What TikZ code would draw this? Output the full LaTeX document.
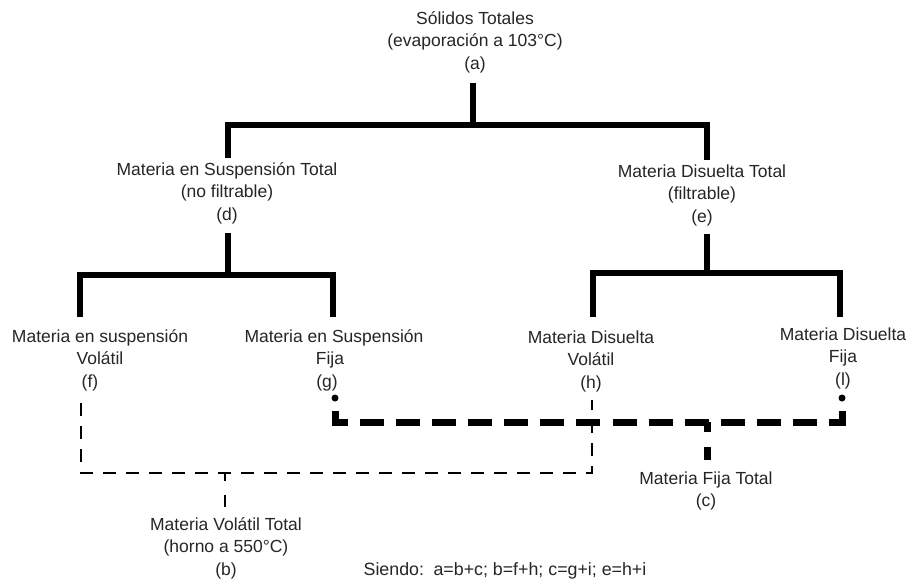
\documentclass[tikz,border=0pt]{standalone}
\usepackage{fontspec}
\setmainfont{Liberation Sans}
\begin{document}
\begin{tikzpicture}[x=1pt,y=-1pt,
  lbl/.style={align=center, inner sep=0pt, font=\fontsize{17.5}{22.5}\selectfont, text=black!85},
  solidln/.style={line width=6pt, line join=miter},
  thickdash/.style={line width=7pt, dash pattern=on 24pt off 12.07pt},
  thindash/.style={line width=1.3pt, dash pattern=on 13pt off 10pt}]
\useasboundingbox (0,0) rectangle (908,582);
\fill[white] (0,0) rectangle (908,582);
% labels
\node[lbl] (a) at (475,42) {Sólidos Totales\\(evaporación a 103°C)\\(a)};
\node[lbl] (d) at (227,193) {Materia en Suspensión Total\\(no filtrable)\\(d)};
\node[lbl] (e) at (702,195) {Materia Disuelta Total\\(filtrable)\\(e)};
\node[lbl] (f) at (100,360) {Materia en suspensión\\Volátil\\\hspace*{-20pt}(f)};
\node[lbl] (g) at (334,360) {Materia en Suspensión\\\hspace*{-8pt}Fija\\\hspace*{-14pt}(g)};
\node[lbl] (h) at (591,361) {Materia Disuelta\\Volátil\\(h)};
\node[lbl] (l) at (843,358) {Materia Disuelta\\Fija\\(l)};
\node[lbl] (c) at (706,491) {Materia Fija Total\\(c)};
\node[lbl] (b) at (226,548) {Materia Volátil Total\\(horno a 550°C)\\(b)};
\node[lbl, font=\fontsize{17.8}{22.5}\selectfont] (s) at (505,571) {Siendo:\, a=b+c; b=f+h; c=g+i; e=h+i};
% junction coordinates
\coordinate (a1) at (473,83);  \coordinate (a2) at (473,125);
\coordinate (dL) at (228,125); \coordinate (eR) at (707,125);
\coordinate (dtop) at (228,158); \coordinate (etop) at (707,160);
\coordinate (d1) at (228,233); \coordinate (d2) at (228,275);
\coordinate (fL) at (80,275);  \coordinate (gR) at (333,275);
\coordinate (ftop) at (80,317); \coordinate (gtop) at (333,317);
\coordinate (e1) at (707,234); \coordinate (e2) at (707,273);
\coordinate (hL) at (593,273); \coordinate (lR) at (840,273);
\coordinate (htop) at (593,317); \coordinate (ltop) at (840,317);
\coordinate (gd) at (335,398); \coordinate (g1) at (335,411);
\coordinate (gc) at (335,422); \coordinate (lc) at (842,422);
\coordinate (l1) at (842,411); \coordinate (ld) at (842,398);
\coordinate (cj) at (707,422); \coordinate (c1) at (707,460);
\coordinate (f1) at (81,403);  \coordinate (fc) at (81,473);
\coordinate (hc) at (592,473); \coordinate (h1) at (592,400);
\coordinate (bj) at (225,473); \coordinate (b1) at (225,507);
% solid tree
\draw[solidln] (a1) -- (a2);
\draw[solidln] (dtop) -- (dL) -- (eR) -- (etop);
\draw[solidln] (d1) -- (d2);
\draw[solidln] (ftop) -- (fL) -- (gR) -- (gtop);
\draw[solidln] (e1) -- (e2);
\draw[solidln] (htop) -- (hL) -- (lR) -- (ltop);
% fixed matter (thick dashed)
\fill (gd) circle (3.5pt);
\fill (ld) circle (3.5pt);
\draw[thickdash] (g1) -- (gc) -- (lc) -- (l1);
\draw[line width=7pt, dash pattern=on 10pt off 15pt on 13pt off 10pt] (cj) -- (c1);
% volatile matter (thin dashed)
\draw[thindash] (f1) -- (fc) -- (hc) -- (h1);
\draw[line width=1.3pt, dash pattern=on 8pt off 14pt on 13pt off 10pt] (bj) -- (b1);
\end{tikzpicture}
\end{document}
